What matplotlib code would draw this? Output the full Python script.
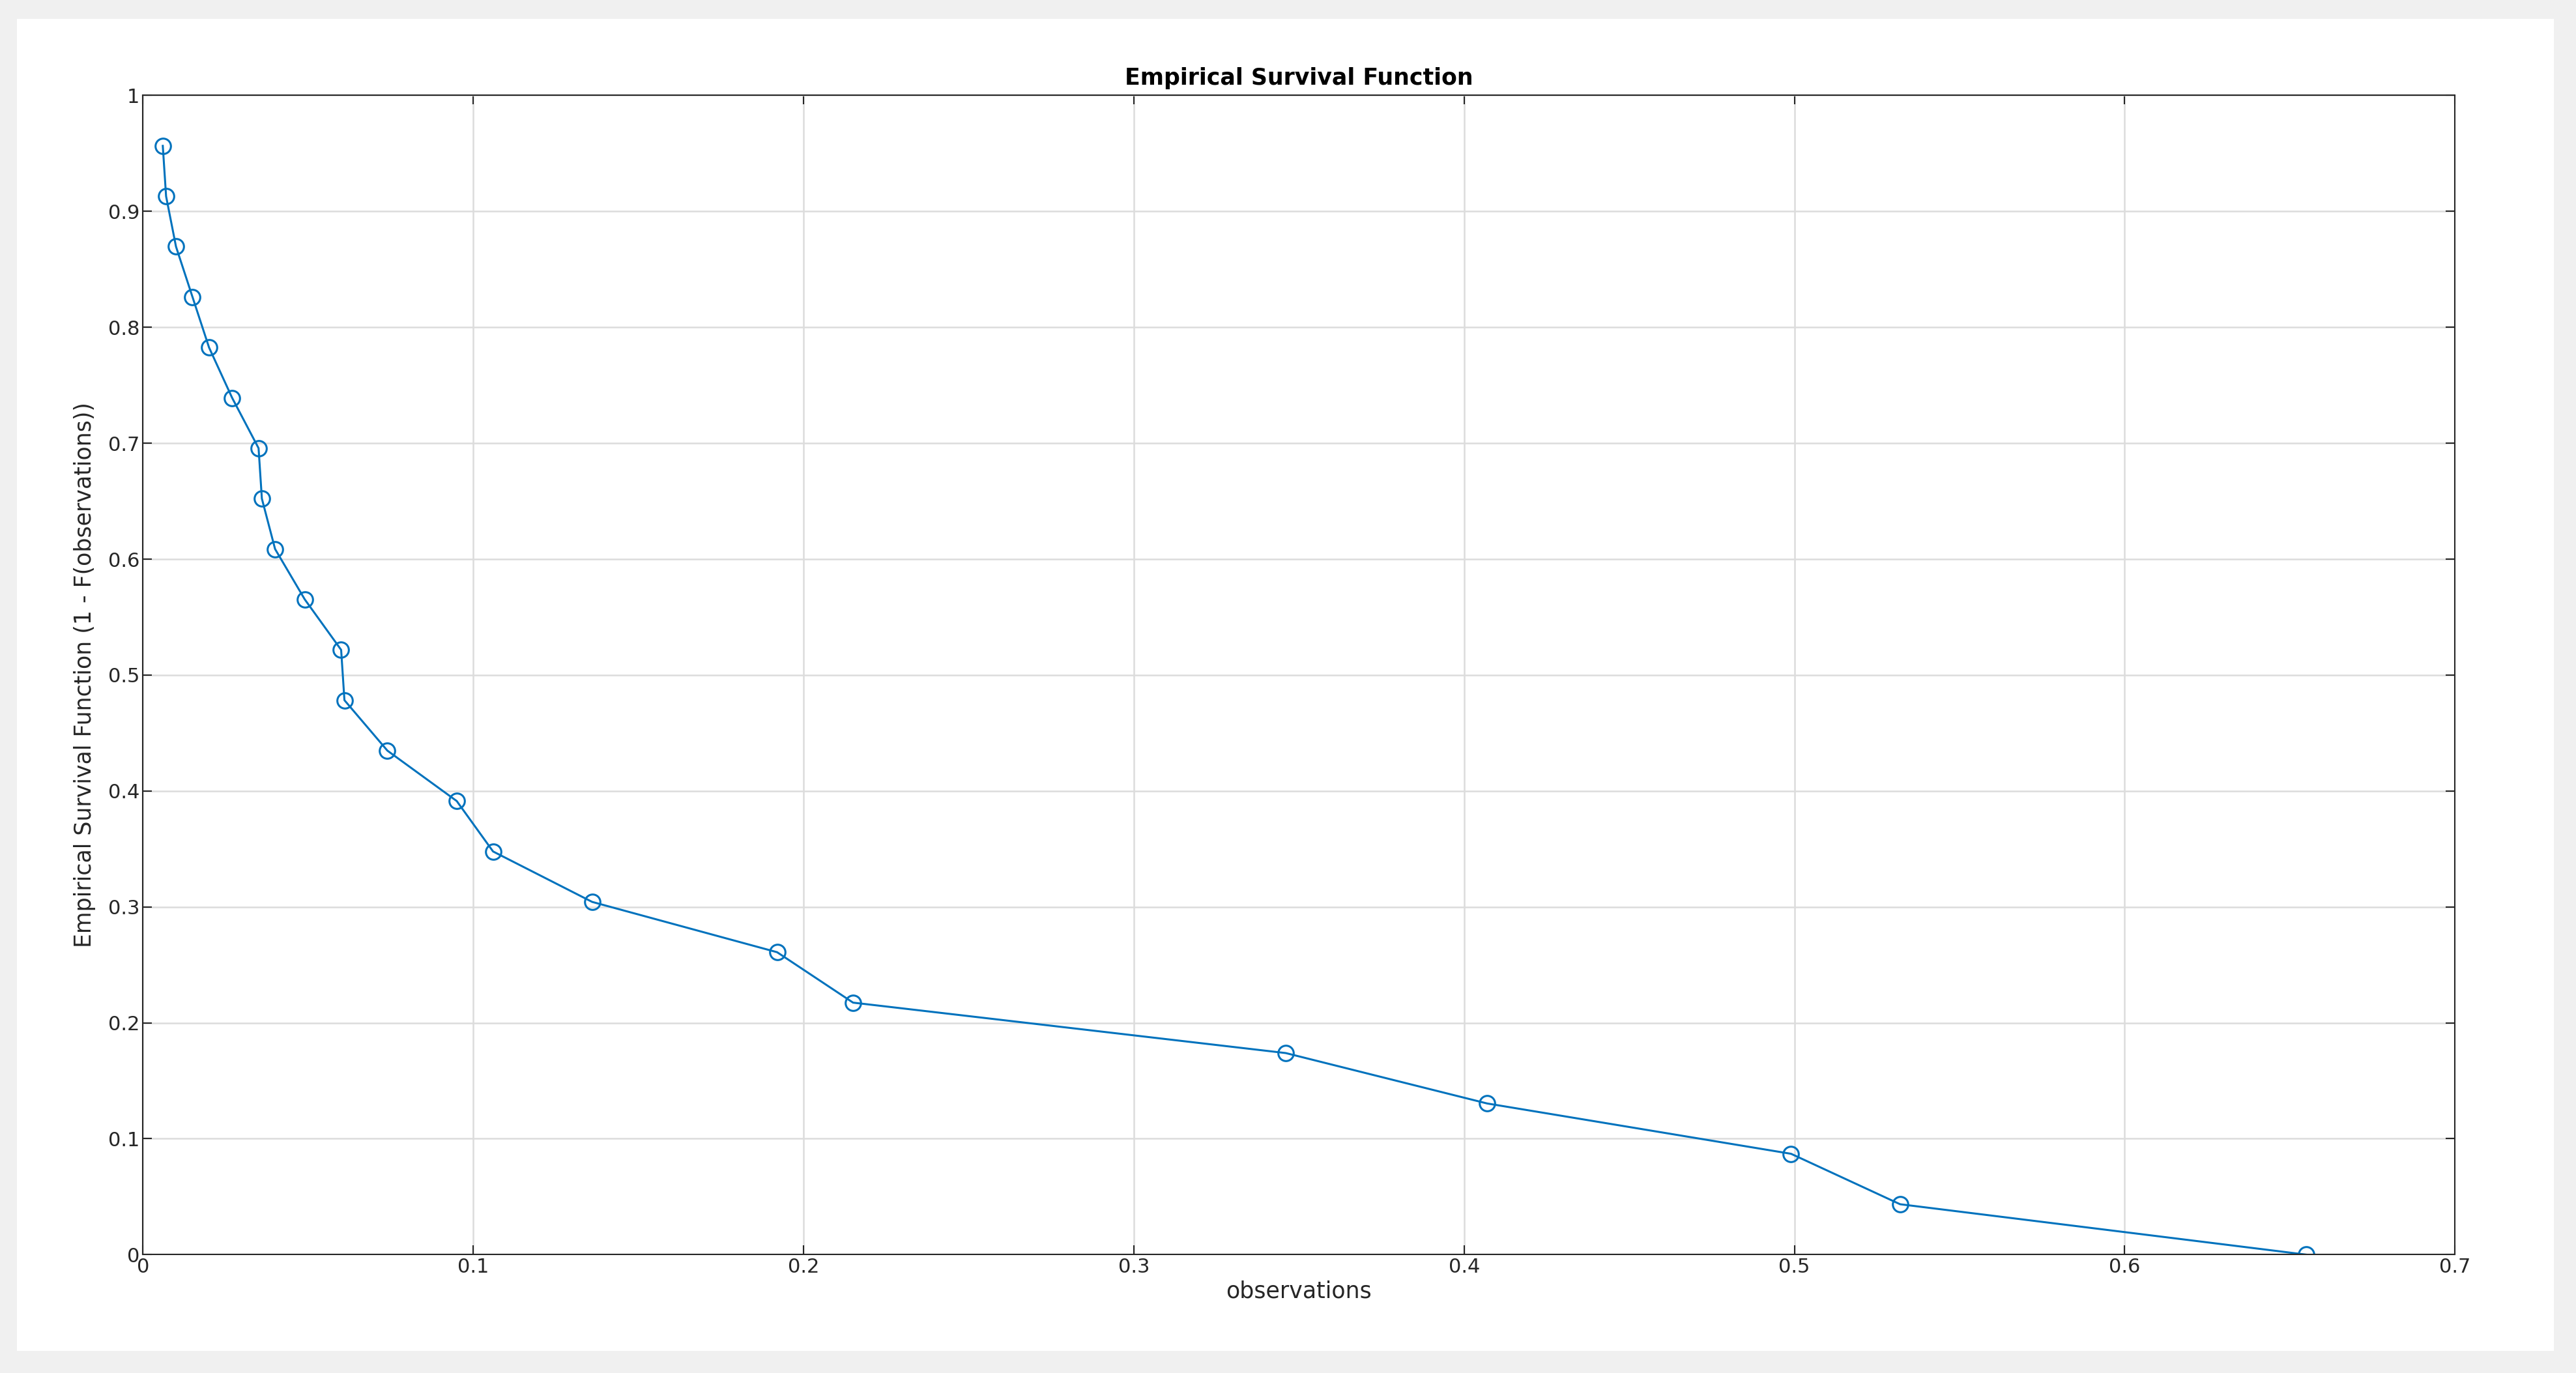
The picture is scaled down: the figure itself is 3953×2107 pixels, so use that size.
import numpy as np
import matplotlib.pyplot as plt
from matplotlib.patches import Rectangle

# observations (sorted) and empirical survival values
obs = [0.006, 0.007, 0.010, 0.015, 0.020, 0.027, 0.035, 0.036, 0.040, 0.049,
       0.060, 0.061, 0.074, 0.095, 0.106, 0.136, 0.192, 0.215, 0.346, 0.407,
       0.499, 0.532, 0.655]
surv = [0.9565, 0.9130, 0.8696, 0.8261, 0.7826, 0.7391, 0.6957, 0.6522,
        0.6087, 0.5652, 0.5217, 0.4783, 0.4348, 0.3913, 0.3478, 0.3043,
        0.2609, 0.2174, 0.1739, 0.1304, 0.0870, 0.0435, 0.0]
xticks = [0, 0.1, 0.2, 0.3, 0.4, 0.5, 0.6, 0.7]
yticks = [0, 0.1, 0.2, 0.3, 0.4, 0.5, 0.6, 0.7, 0.8, 0.9, 1]

fig = plt.figure(figsize=(39.53, 21.07), dpi=100)
fig.patch.set_facecolor('#f0f0f0')
fig.patches.append(Rectangle((0.0065, 0.016), 0.985, 0.970, transform=fig.transFigure,
                             facecolor='white', edgecolor='none', zorder=-10))

ax = fig.add_axes([0.0555, 0.0862, 0.8975, 0.8443])
ax.plot(obs, surv, '-o', color='#0072bd', lw=2.2, ms=17, mfc='none', mew=2.2)
ax.set_xlim(0, 0.7)
ax.set_ylim(0, 1)
ax.set_xticks(xticks)
ax.set_xticklabels([f'{t:g}' for t in xticks])
ax.set_yticks(yticks)
ax.set_yticklabels([f'{t:g}' for t in yticks])
ax.grid(True, color='#dcdcdc', lw=1.8)
ax.set_axisbelow(True)
ax.tick_params(labelsize=22, direction='in', length=10, width=1.5, colors='#262626',
               top=True, right=True)
for s in ax.spines.values():
    s.set_color('#262626')
    s.set_linewidth(1.5)
ax.set_title('Empirical Survival Function', fontsize=25, fontweight='bold', pad=12)
ax.set_xlabel('observations', fontsize=25, color='#262626', labelpad=4)
ax.set_ylabel('Empirical Survival Function (1 - F(observations))', fontsize=25,
              color='#262626', labelpad=14)

fig.savefig('out.png', dpi=100, facecolor=fig.get_facecolor())
